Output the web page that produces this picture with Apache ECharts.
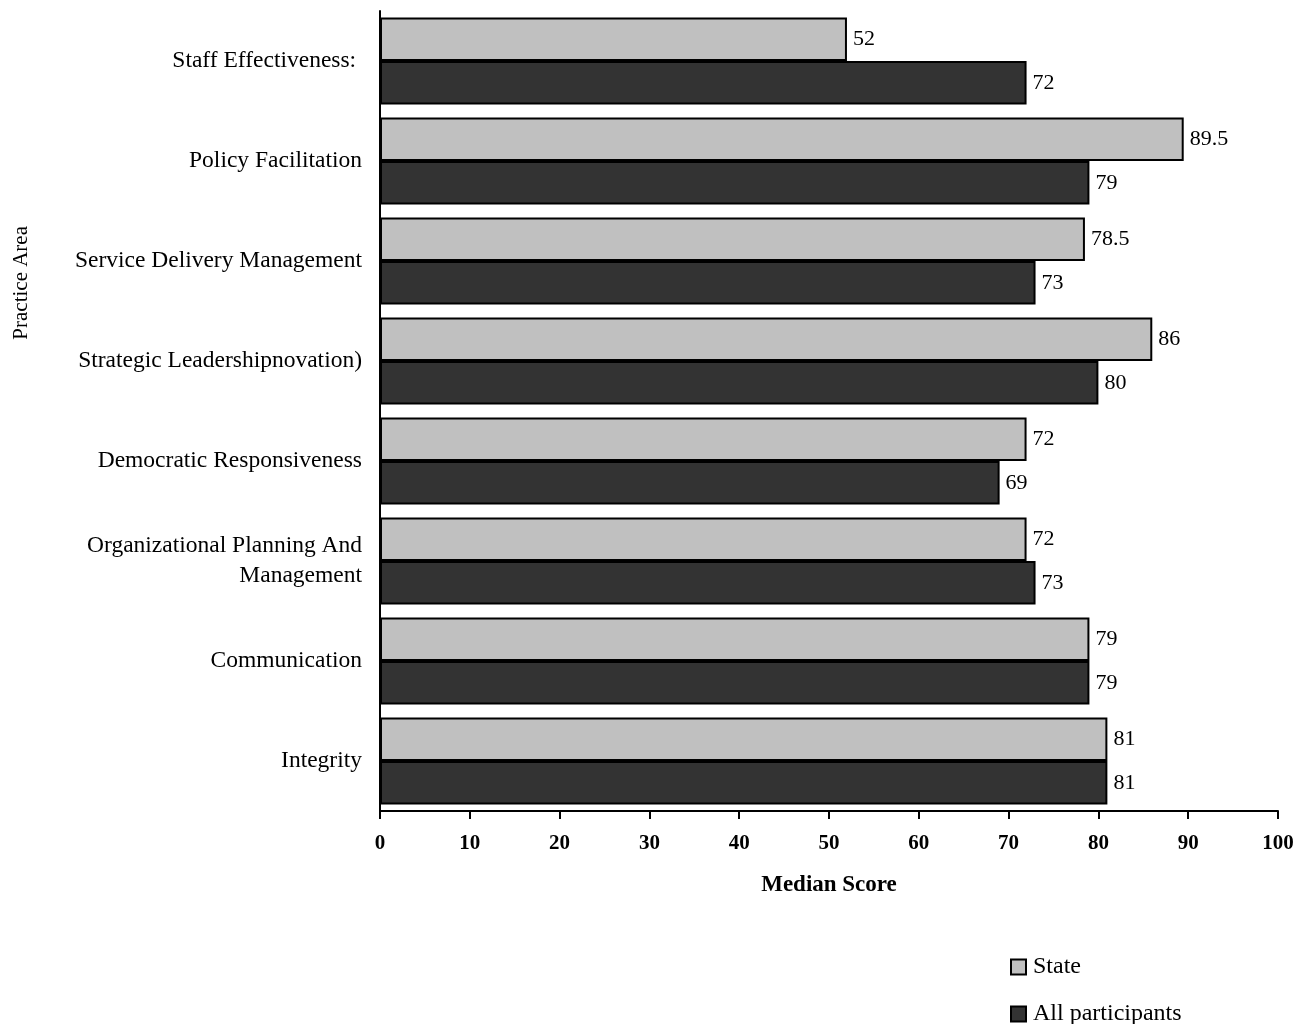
<!DOCTYPE html>
<html>
<head>
<meta charset="utf-8">
<script src="https://cdn.jsdelivr.net/npm/echarts@6/dist/echarts.min.js"></script>
<style>html,body{margin:0;padding:0;background:#fff}#c{width:1311px;height:1024px}</style>
</head>
<body>
<div id="c"></div>
<script>
const categories = ["Staff Effectiveness: ", "Policy Facilitation", "Service Delivery Management", "Strategic Leadershipnovation)", "Democratic Responsiveness", "Organizational Planning And\nManagement", "Communication", "Integrity"];
const stateValues = [52, 89.5, 78.5, 86, 72, 72, 79, 81];
const allValues = [72, 79, 73, 80, 69, 73, 79, 81];
const xTicks = [0, 10, 20, 30, 40, 50, 60, 70, 80, 90, 100];

const font = "'Liberation Serif', 'Times New Roman', serif";
const chart = echarts.init(document.getElementById('c'));
const labelCfg = {show: true, position: 'right', distance: 6, color: '#000', fontFamily: font, fontSize: 22};
const legendText = {color: '#000', fontSize: 24, fontFamily: font, padding: [0, 0, 0, 2]};
chart.setOption({
  animation: false,
  textStyle: {fontFamily: font},
  grid: {left: 380, right: 33, top: 11, bottom: 213, containLabel: false},
  xAxis: {
    type: 'value', min: 0, max: 100, interval: 10,
    axisLine: {show: true, lineStyle: {color: '#000', width: 2}},
    axisTick: {show: true, length: 8, lineStyle: {color: '#000', width: 2}},
    splitLine: {show: false},
    axisLabel: {color: '#000', fontWeight: 'bold', fontSize: 21, fontFamily: font, margin: 22,
      formatter: v => xTicks.includes(v) ? String(v) : ''},
    name: 'Median Score', nameLocation: 'middle', nameGap: 63,
    nameTextStyle: {color: '#000', fontWeight: 'bold', fontSize: 23, fontFamily: font}
  },
  yAxis: {
    type: 'category', data: categories, inverse: true,
    axisLine: {show: true, lineStyle: {color: '#000', width: 2}},
    axisTick: {show: false},
    axisLabel: {color: '#000', fontSize: 23.5, fontFamily: font, margin: 18, lineHeight: 30}
  },
  legend: [
    {orient: 'vertical', left: 1005, top: 950, itemWidth: 15, itemHeight: 15, icon: 'rect',
      textStyle: legendText, data: ['State']},
    {orient: 'vertical', left: 1005, top: 997, itemWidth: 15, itemHeight: 15, icon: 'rect',
      textStyle: legendText, data: ['All participants']}
  ],
  graphic: [{
    type: 'text', left: 11, top: 226, rotation: Math.PI / 2,
    style: {text: 'Practice Area', fill: '#000', fontSize: 21, fontFamily: font}
  }],
  series: [
    {name: 'State', type: 'bar', data: stateValues, barGap: '0%', barCategoryGap: '13%',
      itemStyle: {color: '#c0c0c0', borderColor: '#000', borderWidth: 2}, label: labelCfg},
    {name: 'All participants', type: 'bar', data: allValues, barGap: '0%', barCategoryGap: '13%',
      itemStyle: {color: '#333333', borderColor: '#000', borderWidth: 2}, label: labelCfg}
  ]
});
</script>
</body>
</html>
